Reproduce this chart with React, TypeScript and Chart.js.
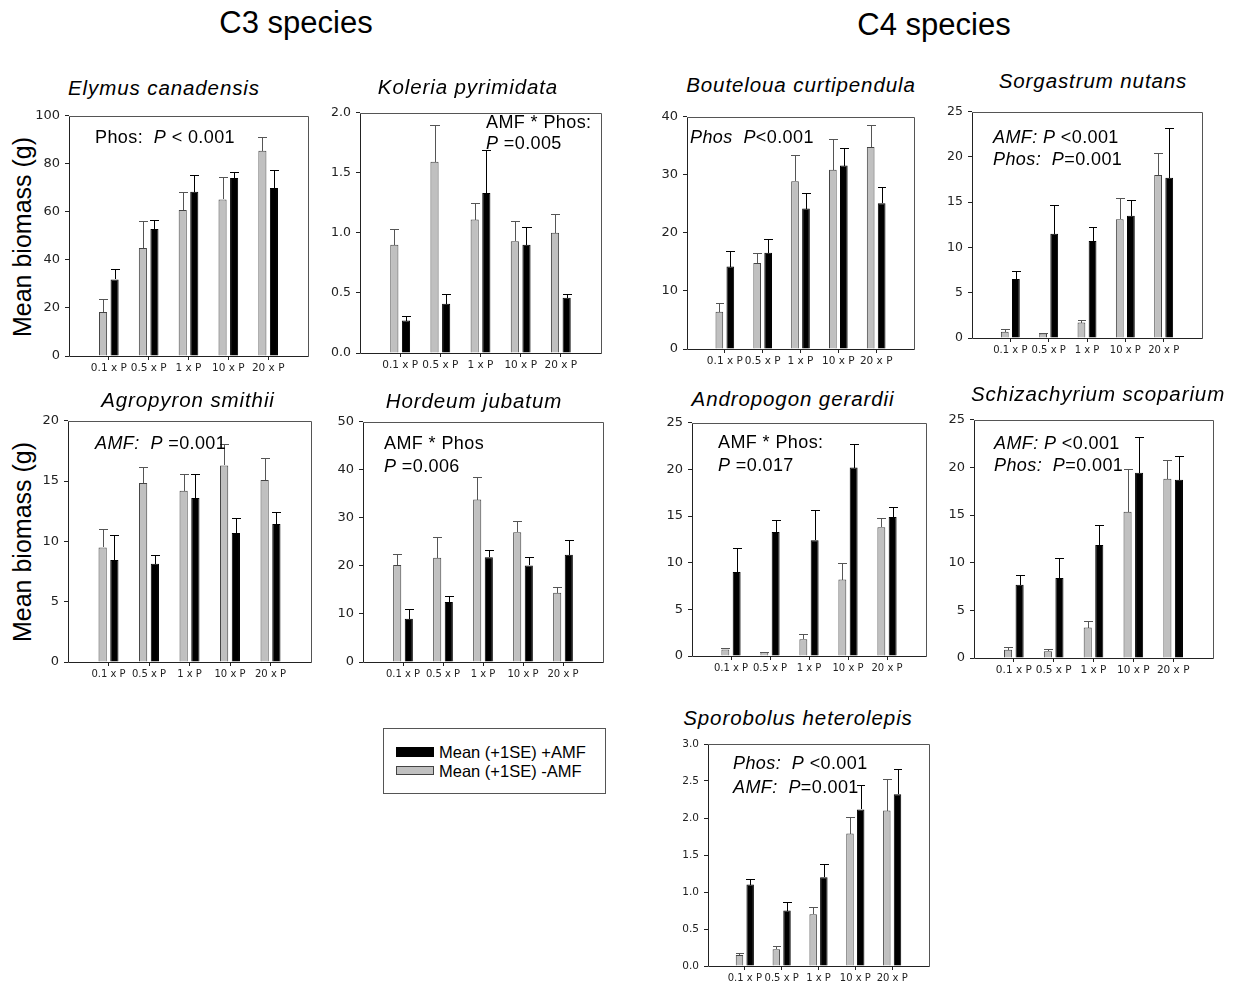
import React, { useEffect, useRef } from 'react';
import { Chart, registerables } from 'chart.js';

Chart.register(...registerables);

const FONT = '"Liberation Sans", Arial, Helvetica, sans-serif';
const TICK_FONT = '"DejaVu Sans", "Liberation Sans", Arial, sans-serif';

// Phosphorus treatments on the x axis
const doseLabels = ['0.1 x P', '0.5 x P', '1 x P', '10 x P', '20 x P'];

// Series labels
const seriesAmf = 'Mean (+1SE) +AMF';
const seriesNoAmf = 'Mean (+1SE) -AMF';

// ---- C3 species ----
const elymusNoAmf = [18.3, 45.0, 60.8, 65.2, 85.5];
const elymusNoAmfSE = [5.5, 11.1, 7.3, 9.2, 5.5];
const elymusAmf = [31.9, 52.9, 68.4, 74.1, 69.9];
const elymusAmfSE = [4.4, 3.7, 6.9, 2.5, 7.5];
const elymusTicks = [0, 20, 40, 60, 80, 100];

const koleriaNoAmf = [0.9, 1.59, 1.11, 0.93, 1.0];
const koleriaNoAmfSE = [0.13, 0.31, 0.14, 0.17, 0.16];
const koleriaAmf = [0.27, 0.41, 1.33, 0.9, 0.46];
const koleriaAmfSE = [0.04, 0.08, 0.36, 0.15, 0.03];
const koleriaTicks = [0, 0.5, 1.0, 1.5, 2.0];

const agropyronNoAmf = [9.5, 14.85, 14.2, 16.3, 15.1];
const agropyronNoAmfSE = [1.5, 1.35, 1.4, 1.75, 1.8];
const agropyronAmf = [8.45, 8.15, 13.6, 10.7, 11.45];
const agropyronAmfSE = [2.1, 0.75, 2.0, 1.2, 0.95];
const agropyronTicks = [0, 5, 10, 15, 20];

const hordeumNoAmf = [20.2, 21.7, 33.8, 27.0, 14.4];
const hordeumNoAmfSE = [2.2, 4.4, 4.8, 2.4, 1.3];
const hordeumAmf = [9.0, 12.5, 21.8, 20.1, 22.3];
const hordeumAmfSE = [2.1, 1.2, 1.5, 1.85, 3.1];
const hordeumTicks = [0, 10, 20, 30, 40, 50];

// ---- C4 species ----
const boutelouaNoAmf = [6.4, 14.8, 28.9, 30.9, 34.8];
const boutelouaNoAmfSE = [1.6, 1.8, 4.5, 5.3, 3.8];
const boutelouaAmf = [14.2, 16.6, 24.2, 31.6, 25.1];
const boutelouaAmfSE = [2.6, 2.4, 2.6, 3.0, 2.8];
const boutelouaTicks = [0, 10, 20, 30, 40];

const sorgastrumNoAmf = [0.7, 0.5, 1.7, 13.1, 18.0];
const sorgastrumNoAmfSE = [0.3, 0.1, 0.3, 2.3, 2.4];
const sorgastrumAmf = [6.5, 11.5, 10.7, 13.5, 17.7];
const sorgastrumAmfSE = [0.9, 3.2, 1.5, 1.7, 5.5];
const sorgastrumTicks = [0, 5, 10, 15, 20, 25];

const andropogonNoAmf = [0.7, 0.4, 1.8, 8.2, 13.8];
const andropogonNoAmfSE = [0.2, 0.05, 0.6, 1.75, 1.0];
const andropogonAmf = [9.0, 13.3, 12.4, 20.2, 14.9];
const andropogonAmfSE = [2.6, 1.25, 3.25, 2.5, 1.1];
const andropogonTicks = [0, 5, 10, 15, 20, 25];

const schizachyriumNoAmf = [0.87, 0.7, 3.2, 15.35, 18.8];
const schizachyriumNoAmfSE = [0.3, 0.25, 0.7, 4.45, 1.95];
const schizachyriumAmf = [7.7, 8.4, 11.85, 19.45, 18.7];
const schizachyriumAmfSE = [1.0, 2.1, 2.15, 3.75, 2.45];
const schizachyriumTicks = [0, 5, 10, 15, 20, 25];

const sporobolusNoAmf = [0.15, 0.225, 0.7, 1.79, 2.1];
const sporobolusNoAmfSE = [0.02, 0.04, 0.095, 0.23, 0.43];
const sporobolusAmf = [1.1, 0.75, 1.2, 2.115, 2.32];
const sporobolusAmfSE = [0.075, 0.11, 0.185, 0.325, 0.345];
const sporobolusTicks = [0, 0.5, 1.0, 1.5, 2.0, 2.5, 3.0];

// Layout constants for each panel canvas
const Y_AXIS_W = 44;
const X_AXIS_H = 26;
const PAD_T = 12;
const PAD_R = 10;

type Seg = [string, boolean];

interface PanelSpec {
  title: string;
  noAmf: number[];
  noAmfSE: number[];
  amf: number[];
  amfSE: number[];
  ticks: number[];
  box: [number, number, number, number];
  titleAt: [number, number];
  note: Seg[][];
  noteAt: [number, number];
  noteGap: number;
  yFont: number;
  xFont: number;
}

const panels: PanelSpec[] = [
  {
    title: 'Elymus canadensis',
    noAmf: elymusNoAmf, noAmfSE: elymusNoAmfSE, amf: elymusAmf, amfSE: elymusAmfSE,
    ticks: elymusTicks,
    box: [69, 115, 308, 356],
    titleAt: [164, 88],
    note: [[['Phos:  ', false], ['P', true], [' < 0.001', false]]],
    noteAt: [95, 137], noteGap: 22, yFont: 13, xFont: 10.5,
  },
  {
    title: 'Koleria pyrimidata',
    noAmf: koleriaNoAmf, noAmfSE: koleriaNoAmfSE, amf: koleriaAmf, amfSE: koleriaAmfSE,
    ticks: koleriaTicks,
    box: [360, 112, 601, 353],
    titleAt: [468, 87],
    note: [[['AMF * Phos:', false]], [['P', true], [' =0.005', false]]],
    noteAt: [486, 122], noteGap: 21, yFont: 12.5, xFont: 10.5,
  },
  {
    title: 'Bouteloua curtipendula',
    noAmf: boutelouaNoAmf, noAmfSE: boutelouaNoAmfSE, amf: boutelouaAmf, amfSE: boutelouaAmfSE,
    ticks: boutelouaTicks,
    box: [687, 116, 914, 349],
    titleAt: [801, 85],
    note: [[['Phos  P', true], ['<0.001', false]]],
    noteAt: [690, 137], noteGap: 22, yFont: 13, xFont: 10.5,
  },
  {
    title: 'Sorgastrum nutans',
    noAmf: sorgastrumNoAmf, noAmfSE: sorgastrumNoAmfSE, amf: sorgastrumAmf, amfSE: sorgastrumAmfSE,
    ticks: sorgastrumTicks,
    box: [972, 111, 1202, 338],
    titleAt: [1093, 81],
    note: [
      [['AMF: P', true], [' <0.001', false]],
      [['Phos:  P', true], ['=0.001', false]],
    ],
    noteAt: [993, 137], noteGap: 22, yFont: 12.5, xFont: 10,
  },
  {
    title: 'Agropyron smithii',
    noAmf: agropyronNoAmf, noAmfSE: agropyronNoAmfSE, amf: agropyronAmf, amfSE: agropyronAmfSE,
    ticks: agropyronTicks,
    box: [68, 420, 311, 662],
    titleAt: [188, 400],
    note: [[['AMF:  P', true], [' =0.001', false]]],
    noteAt: [95, 443], noteGap: 22, yFont: 13, xFont: 10,
  },
  {
    title: 'Hordeum jubatum',
    noAmf: hordeumNoAmf, noAmfSE: hordeumNoAmfSE, amf: hordeumAmf, amfSE: hordeumAmfSE,
    ticks: hordeumTicks,
    box: [363, 421, 603, 662],
    titleAt: [474, 401],
    note: [[['AMF * Phos', false]], [['P', true], [' =0.006', false]]],
    noteAt: [384, 443], noteGap: 23, yFont: 13, xFont: 10,
  },
  {
    title: 'Andropogon gerardii',
    noAmf: andropogonNoAmf, noAmfSE: andropogonNoAmfSE, amf: andropogonAmf, amfSE: andropogonAmfSE,
    ticks: andropogonTicks,
    box: [692, 422, 926, 656],
    titleAt: [793, 399],
    note: [[['AMF * Phos:', false]], [['P', true], [' =0.017', false]]],
    noteAt: [718, 442], noteGap: 23, yFont: 13, xFont: 10,
  },
  {
    title: 'Schizachyrium scoparium',
    noAmf: schizachyriumNoAmf, noAmfSE: schizachyriumNoAmfSE, amf: schizachyriumAmf, amfSE: schizachyriumAmfSE,
    ticks: schizachyriumTicks,
    box: [974, 419, 1213, 658],
    titleAt: [1098, 394],
    note: [
      [['AMF: P', true], [' <0.001', false]],
      [['Phos:  P', true], ['=0.001', false]],
    ],
    noteAt: [994, 443], noteGap: 22, yFont: 13, xFont: 10.5,
  },
  {
    title: 'Sporobolus heterolepis',
    noAmf: sporobolusNoAmf, noAmfSE: sporobolusNoAmfSE, amf: sporobolusAmf, amfSE: sporobolusAmfSE,
    ticks: sporobolusTicks,
    box: [708, 744, 929, 966],
    titleAt: [798, 718],
    note: [
      [['Phos:  P', true], [' <0.001', false]],
      [['AMF:  P', true], ['=0.001', false]],
    ],
    noteAt: [733, 763], noteGap: 24, yFont: 10.5, xFont: 10,
  },
];

// Draws the closed frame around the plotting area
const framePlugin = {
  id: 'frame',
  afterDatasetsDraw(chart: any) {
    const { ctx, chartArea } = chart;
    const l = Math.round(chartArea.left) + 0.5;
    const t = Math.round(chartArea.top) + 0.5;
    const r = Math.round(chartArea.right) + 0.5;
    const b = Math.round(chartArea.bottom) + 0.5;
    ctx.save();
    ctx.lineWidth = 1;
    ctx.strokeStyle = '#555';
    ctx.beginPath();
    ctx.moveTo(l, t);
    ctx.lineTo(r, t);
    ctx.lineTo(r, b);
    ctx.stroke();
    ctx.strokeStyle = '#222';
    ctx.beginPath();
    ctx.moveTo(l, t);
    ctx.lineTo(l, b);
    ctx.lineTo(r, b);
    ctx.stroke();
    ctx.restore();
  },
};

// Upward (+1 SE) error bars with a cap the width of the bar
const errorBarPlugin = {
  id: 'errorBars',
  afterDatasetsDraw(chart: any) {
    const { ctx } = chart;
    const yScale = chart.scales.y;
    chart.data.datasets.forEach((ds: any, di: number) => {
      const meta = chart.getDatasetMeta(di);
      meta.data.forEach((bar: any, i: number) => {
        const v = ds.data[i];
        const se = ds.se[i];
        if (v == null || se == null) return;
        const { x, width } = bar.getProps(['x', 'width'], true);
        const y0 = Math.round(yScale.getPixelForValue(v));
        const y1 = Math.round(yScale.getPixelForValue(v + se)) + 0.5;
        const cx = Math.round(x) + 0.5;
        ctx.save();
        ctx.strokeStyle = ds.errColor;
        ctx.lineWidth = 1;
        ctx.beginPath();
        ctx.moveTo(cx, y0);
        ctx.lineTo(cx, y1);
        ctx.moveTo(Math.round(x - width / 2), y1);
        ctx.lineTo(Math.round(x + width / 2) + 1, y1);
        ctx.stroke();
        ctx.restore();
      });
    });
  },
};

function BarPanel({ spec }: { spec: PanelSpec }) {
  const ref = useRef<HTMLCanvasElement | null>(null);
  const [l, t, r, b] = spec.box;
  const width = r - l + Y_AXIS_W + PAD_R;
  const height = b - t + PAD_T + X_AXIS_H;

  useEffect(() => {
    if (!ref.current) return;
    const labels = ['', ...doseLabels, ''];
    const pad = (arr: number[]) => [null, ...arr, null];
    const step = spec.ticks[1] - spec.ticks[0];
    const decimals = step < 1 ? 1 : 0;
    const lastIdx = labels.length - 1;

    const chart = new Chart(ref.current, {
      type: 'bar',
      data: {
        labels,
        datasets: [
          {
            label: seriesNoAmf,
            data: pad(spec.noAmf),
            se: pad(spec.noAmfSE),
            errColor: '#555',
            backgroundColor: '#c0c0c0',
            borderColor: '#444',
            borderWidth: 1,
            categoryPercentage: 0.58,
            barPercentage: 0.7,
          } as any,
          {
            label: seriesAmf,
            data: pad(spec.amf),
            se: pad(spec.amfSE),
            errColor: '#000',
            backgroundColor: '#000',
            borderColor: '#000',
            borderWidth: 1,
            categoryPercentage: 0.58,
            barPercentage: 0.7,
          } as any,
        ],
      },
      options: {
        responsive: false,
        animation: false,
        events: [],
        layout: { padding: { top: PAD_T, right: PAD_R, left: 0, bottom: 0 } },
        plugins: {
          legend: { display: false },
          tooltip: { enabled: false },
          title: { display: false },
        },
        scales: {
          x: {
            type: 'category',
            offset: false,
            border: { display: false },
            grid: {
              offset: false,
              drawOnChartArea: false,
              drawTicks: true,
              tickLength: 4,
              tickColor: (ctx: any) =>
                ctx.index === 0 || ctx.index === lastIdx ? 'rgba(0,0,0,0)' : '#222',
            },
            ticks: {
              autoSkip: false,
              maxRotation: 0,
              minRotation: 0,
              padding: 2,
              color: '#222',
              font: { family: TICK_FONT, size: spec.xFont },
            },
            afterFit: (s: any) => {
              s.height = X_AXIS_H;
            },
          },
          y: {
            min: spec.ticks[0],
            max: spec.ticks[spec.ticks.length - 1],
            border: { display: false },
            grid: {
              drawOnChartArea: false,
              drawTicks: true,
              tickLength: 4,
              tickColor: '#222',
            },
            ticks: {
              stepSize: step,
              padding: 5,
              color: '#222',
              font: { family: TICK_FONT, size: spec.yFont },
              callback: (v: any) => Number(v).toFixed(decimals),
            },
            afterFit: (s: any) => {
              s.width = Y_AXIS_W;
            },
          },
        },
      } as any,
      plugins: [framePlugin, errorBarPlugin],
    });
    return () => chart.destroy();
  }, [spec]);

  return (
    <canvas
      ref={ref}
      width={width}
      height={height}
      style={{
        position: 'absolute',
        left: l - Y_AXIS_W,
        top: t - PAD_T,
        width,
        height,
      }}
    />
  );
}

function PanelText({ spec }: { spec: PanelSpec }) {
  return (
    <>
      <div
        style={{
          position: 'absolute',
          left: spec.titleAt[0],
          top: spec.titleAt[1],
          transform: 'translate(-50%, -50%)',
          fontStyle: 'italic',
          fontSize: 20.5,
          letterSpacing: '0.9px',
          whiteSpace: 'nowrap',
          lineHeight: 1,
        }}
      >
        {spec.title}
      </div>
      {spec.note.map((line, li) => (
        <div
          key={li}
          style={{
            position: 'absolute',
            left: spec.noteAt[0],
            top: spec.noteAt[1] + li * spec.noteGap,
            transform: 'translateY(-50%)',
            fontSize: 18,
            letterSpacing: '0.4px',
            whiteSpace: 'pre',
            lineHeight: 1,
          }}
        >
          {line.map(([txt, it], si) => (
            <span key={si} style={{ fontStyle: it ? 'italic' : 'normal' }}>
              {txt}
            </span>
          ))}
        </div>
      ))}
    </>
  );
}

function YLabel({ x, y }: { x: number; y: number }) {
  return (
    <div
      style={{
        position: 'absolute',
        left: x,
        top: y,
        transform: 'translate(-50%, -50%) rotate(-90deg)',
        fontSize: 25,
        whiteSpace: 'nowrap',
        lineHeight: 1,
      }}
    >
      Mean biomass (g)
    </div>
  );
}

export default function App() {
  return (
    <div
      style={{
        position: 'absolute',
        left: 0,
        top: 0,
        width: 1239,
        height: 990,
        background: '#fff',
        fontFamily: FONT,
        color: '#000',
        overflow: 'hidden',
      }}
    >
      <div style={{ position: 'absolute', left: 296, top: 22, transform: 'translate(-50%, -50%)', fontSize: 31, whiteSpace: 'nowrap', lineHeight: 1 }}>
        C3 species
      </div>
      <div style={{ position: 'absolute', left: 934, top: 24, transform: 'translate(-50%, -50%)', fontSize: 31, whiteSpace: 'nowrap', lineHeight: 1 }}>
        C4 species
      </div>
      <YLabel x={22} y={237} />
      <YLabel x={22} y={542} />

      {panels.map((p, i) => (
        <BarPanel key={'c' + i} spec={p} />
      ))}
      {panels.map((p, i) => (
        <PanelText key={'t' + i} spec={p} />
      ))}

      {/* shared legend */}
      <div
        style={{
          position: 'absolute',
          left: 383,
          top: 728,
          width: 223,
          height: 66,
          border: '1px solid #555',
          boxSizing: 'border-box',
        }}
      />
      <div style={{ position: 'absolute', left: 396, top: 747, width: 38, height: 10, background: '#000' }} />
      <div style={{ position: 'absolute', left: 396, top: 766, width: 38, height: 9, background: '#c0c0c0', border: '1px solid #444', boxSizing: 'border-box' }} />
      <div style={{ position: 'absolute', left: 439, top: 752, transform: 'translateY(-50%)', fontSize: 16.5, whiteSpace: 'nowrap', lineHeight: 1 }}>
        {seriesAmf}
      </div>
      <div style={{ position: 'absolute', left: 439, top: 771, transform: 'translateY(-50%)', fontSize: 16.5, whiteSpace: 'nowrap', lineHeight: 1 }}>
        {seriesNoAmf}
      </div>
    </div>
  );
}
